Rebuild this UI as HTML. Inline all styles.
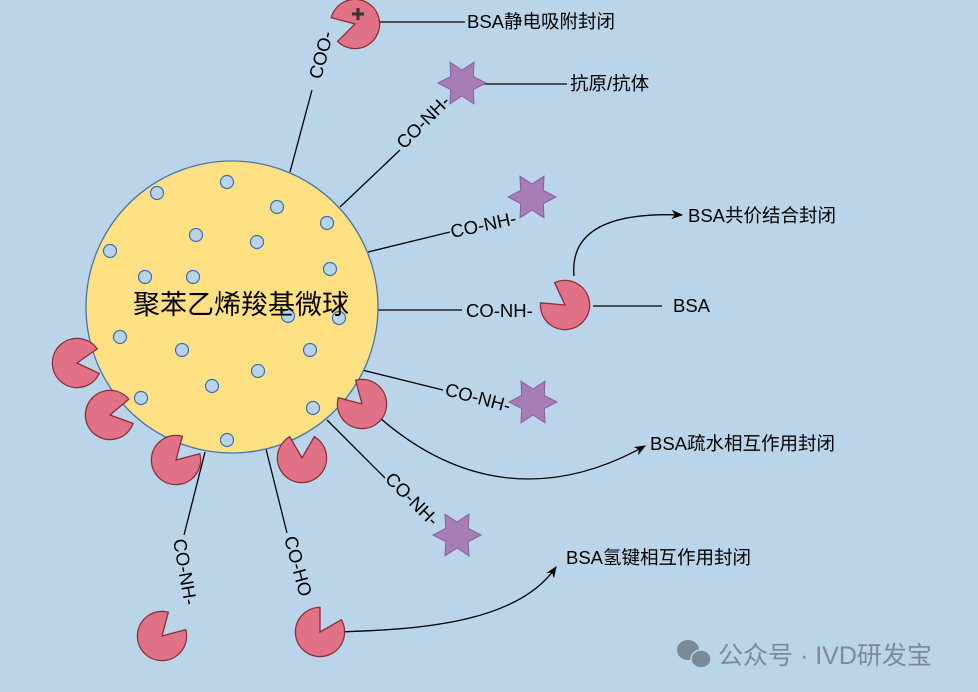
<!DOCTYPE html>
<html><head><meta charset="utf-8"><style>
html,body{margin:0;padding:0;background:#bad4e9;}
svg{display:block;}
text{font-family:"Liberation Sans","Noto Sans CJK SC",sans-serif;fill:#000;}
</style></head><body>
<svg width="978" height="692" viewBox="0 0 978 692" xmlns="http://www.w3.org/2000/svg">
<defs>
<path id="pm" d="M0,0 L21.3,12.3 A24.6,24.6 0 1,1 21.3,-12.3 Z" fill="#e07186" stroke="#8a2e36" stroke-width="1.3"/>
<polygon id="st" points="24,0 11.3,6.5 12,20.8 0,13 -12,20.8 -11.3,6.5 -24,0 -11.3,-6.5 -12,-20.8 0,-13 12,-20.8 11.3,-6.5" fill="#a67db6" stroke="#8a5f9e" stroke-width="1"/>
<marker id="ar" viewBox="0 0 10 10" refX="9" refY="5" markerWidth="9" markerHeight="9" orient="auto"><path d="M0,1 L10,5 L0,9 L3,5 Z" fill="#000"/></marker>
</defs>
<rect width="978" height="692" fill="#bad4e9"/>

<g stroke="#000" stroke-width="1.3" fill="none">
<line x1="290" y1="172" x2="312" y2="90"/>
<line x1="379" y1="22" x2="465" y2="22"/>
<line x1="340" y1="207" x2="400" y2="150"/>
<line x1="482" y1="84" x2="567" y2="84"/>
<line x1="368" y1="252" x2="450" y2="232"/>
<line x1="378" y1="310" x2="462" y2="310"/>
<line x1="593" y1="306" x2="662" y2="306"/>
<line x1="362" y1="370" x2="443" y2="390"/>
<line x1="327" y1="420" x2="385" y2="478"/>
<line x1="205" y1="452" x2="184" y2="535"/>
<line x1="266" y1="449" x2="287" y2="533"/>
<path d="M574,276 C570,230 610,212 682,215" marker-end="url(#ar)"/>
<path d="M380,418 C440,470 530,510 645,446" marker-end="url(#ar)"/>
<path d="M333,632 C430,630 520,620 556,567" marker-end="url(#ar)"/>
</g>

<circle cx="232" cy="307" r="146" fill="#ffe082" stroke="#4a73a8" stroke-width="1.3"/>
<g fill="#b9d3ea" stroke="#3a6fb0" stroke-width="1.2">
<circle cx="157" cy="193" r="6.5"/><circle cx="227" cy="182" r="6.5"/><circle cx="277" cy="207" r="6.5"/><circle cx="327" cy="223" r="6.5"/>
<circle cx="110" cy="251" r="6.5"/><circle cx="196" cy="235" r="6.5"/><circle cx="257" cy="242" r="6.5"/><circle cx="145" cy="277" r="6.5"/>
<circle cx="193" cy="277" r="6.5"/><circle cx="330" cy="269" r="6.5"/><circle cx="288" cy="316" r="6.5"/><circle cx="339" cy="318" r="6.5"/>
<circle cx="120" cy="337" r="6.5"/><circle cx="182" cy="350" r="6.5"/><circle cx="310" cy="350" r="6.5"/><circle cx="212" cy="386" r="6.5"/>
<circle cx="258" cy="371" r="6.5"/><circle cx="141" cy="398" r="6.5"/><circle cx="313" cy="408" r="6.5"/><circle cx="227" cy="440" r="6.5"/>
</g>
<text x="241" y="314" font-size="27" text-anchor="middle">聚苯乙烯羧基微球</text>

<use href="#pm" transform="translate(355,24) rotate(165)"/>
<path d="M352,14 h12 M358,8 v12" stroke="#333" stroke-width="3"/>
<use href="#pm" transform="translate(565,305) rotate(215)"/>
<use href="#pm" transform="translate(77,363) rotate(-5)"/>
<use href="#pm" transform="translate(110,415) rotate(-10)"/>
<use href="#pm" transform="translate(176,460) rotate(-45)"/>
<use href="#pm" transform="translate(302,458) rotate(-90)"/>
<use href="#pm" transform="translate(362,404) rotate(225)"/>
<use href="#pm" transform="translate(162,636) rotate(-45)"/>
<use href="#pm" transform="translate(320,632) rotate(-60)"/>

<use href="#st" transform="translate(462,83)"/>
<use href="#st" transform="translate(532,197)"/>
<use href="#st" transform="translate(533,402)"/>
<use href="#st" transform="translate(457,535)"/>

<g font-size="18.5">
<text x="467" y="28">BSA静电吸附封闭</text>
<text x="570" y="90">抗原/抗体</text>
<text x="688" y="222">BSA共价结合封闭</text>
<text x="673" y="312">BSA</text>
<text x="650" y="450">BSA疏水相互作用封闭</text>
<text x="566" y="564">BSA氢键相互作用封闭</text>
<text x="466" y="317">CO-NH-</text>
<text transform="translate(321,80) rotate(-75)">COO-</text>
<text transform="translate(404,150) rotate(-45)">CO-NH-</text>
<text transform="translate(452,238) rotate(-12)">CO-NH-</text>
<text transform="translate(444,395) rotate(15)">CO-NH-</text>
<text transform="translate(384,480) rotate(45)">CO-NH-</text>
<text transform="translate(173,540) rotate(80)">CO-NH-</text>
<text transform="translate(284,538) rotate(75)">CO-HO</text>
</g>

<g fill="#7a8a9a">
<ellipse cx="688" cy="650" rx="11" ry="10"/>
<ellipse cx="701" cy="659" rx="10" ry="9" stroke="#bad4e9" stroke-width="1.5"/>
</g>
<text x="718" y="664" font-size="25" style="fill:#7a8a9a">公众号 · IVD研发宝</text>
</svg>
</body></html>
